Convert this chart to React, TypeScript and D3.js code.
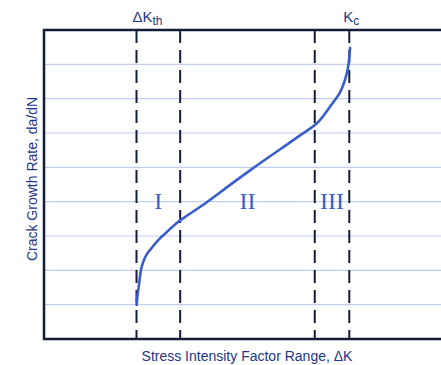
import { useEffect, useRef } from "react";
import * as d3 from "d3";

// crack growth curve (ΔK, log da/dN) in arbitrary units
const deltaK = [23.35, 23.55, 23.85, 24.43, 24.81, 25.31, 25.94, 26.7, 27.96, 29.2, 30.5, 31.7, 33.75, 35.5, 41.1, 46.9, 52.6, 59.4, 64.5, 68.8, 72.0, 74.6, 75.8, 76.6, 76.95, 77.1];
const rate = [0.99, 1.28, 1.52, 2.01, 2.18, 2.34, 2.48, 2.59, 2.77, 2.93, 3.07, 3.2, 3.41, 3.55, 3.99, 4.49, 4.97, 5.52, 5.93, 6.29, 6.76, 7.19, 7.54, 7.92, 8.27, 8.48];

const regionBounds = [23.3, 34.3, 68.2, 76.9];
const regionLabels = ["I", "II", "III"];
const gridLevels = [1, 2, 3, 4, 5, 6, 7, 8];

export default function App() {
  const ref = useRef<SVGSVGElement>(null);

  useEffect(() => {
    const svg = d3.select(ref.current);
    svg.selectAll("*").remove();

    const x = d3.scaleLinear().domain([0, 100]).range([44, 441]);
    const y = d3.scaleLinear().domain([0, 9]).range([339, 30]);
    const navy = "#141c38";
    const textBlue = "#22368a";
    const curveBlue = "#3a5dcc";

    // grid
    svg
      .selectAll(".grid")
      .data(gridLevels)
      .enter()
      .append("line")
      .attr("x1", x(0))
      .attr("x2", 441)
      .attr("y1", (d) => y(d))
      .attr("y2", (d) => y(d))
      .attr("stroke", "#c3cdf2")
      .attr("stroke-width", 1.2);

    // dashed region boundaries
    svg
      .selectAll(".bound")
      .data(regionBounds)
      .enter()
      .append("line")
      .attr("x1", (d) => x(d))
      .attr("x2", (d) => x(d))
      .attr("y1", y(9))
      .attr("y2", y(0))
      .attr("stroke", navy)
      .attr("stroke-width", 2)
      .attr("stroke-dasharray", "13,7");

    // frame (left, top, bottom)
    svg
      .append("path")
      .attr("d", `M441,${y(9)}H${x(0)}V${y(0)}H441`)
      .attr("fill", "none")
      .attr("stroke", navy)
      .attr("stroke-width", 2.5);

    // curve
    const pts = deltaK.map((k, i) => [k, rate[i]] as [number, number]);
    const line = d3
      .line<[number, number]>()
      .x((d) => x(d[0]))
      .y((d) => y(d[1]))
      .curve(d3.curveCatmullRom.alpha(0.5));
    svg
      .append("path")
      .attr("d", line(pts))
      .attr("fill", "none")
      .attr("stroke", curveBlue)
      .attr("stroke-width", 2.6)
      .attr("stroke-linecap", "round");

    // region labels
    svg
      .selectAll(".region")
      .data(regionLabels)
      .enter()
      .append("text")
      .attr("x", (d, i) => x((regionBounds[i] + regionBounds[i + 1]) / 2))
      .attr("y", 209)
      .attr("text-anchor", "middle")
      .attr("font-family", "Liberation Serif, Times New Roman, serif")
      .attr("font-size", 24)
      .attr("fill", curveBlue)
      .text((d) => d);

    const sans = "Liberation Sans, Arial, sans-serif";

    // top labels
    const kth = svg
      .append("text")
      .attr("x", x(regionBounds[0]) - 4)
      .attr("y", 22)
      .attr("font-family", sans)
      .attr("font-size", 15)
      .attr("fill", textBlue);
    kth.append("tspan").text("ΔK");
    kth.append("tspan").attr("font-size", 12).attr("dy", 3).text("th");

    const kc = svg
      .append("text")
      .attr("x", x(regionBounds[3]) - 6)
      .attr("y", 22)
      .attr("font-family", sans)
      .attr("font-size", 15)
      .attr("fill", textBlue);
    kc.append("tspan").text("K");
    kc.append("tspan").attr("font-size", 12).attr("dy", 3).text("c");

    // axis titles
    svg
      .append("text")
      .attr("x", 247)
      .attr("y", 361)
      .attr("text-anchor", "middle")
      .attr("font-family", sans)
      .attr("font-size", 14)
      .attr("fill", textBlue)
      .text("Stress Intensity Factor Range, ΔK");

    svg
      .append("text")
      .attr("transform", "translate(37,179) rotate(-90)")
      .attr("text-anchor", "middle")
      .attr("font-family", sans)
      .attr("font-size", 14)
      .attr("fill", textBlue)
      .text("Crack Growth Rate, da/dN");
  }, []);

  return (
    <svg
      ref={ref}
      width={441}
      height={365}
      style={{ position: "absolute", left: 0, top: 0, background: "#fff" }}
    />
  );
}
